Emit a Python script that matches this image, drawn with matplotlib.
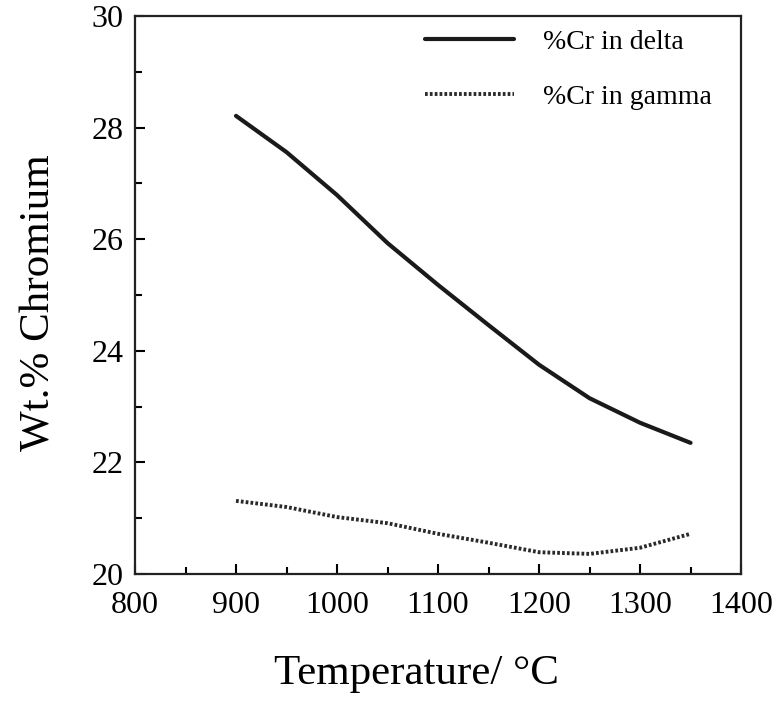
import matplotlib
matplotlib.use("Agg")
import matplotlib.pyplot as plt
from matplotlib.ticker import MultipleLocator

temps = [900, 950, 1000, 1050, 1100, 1150, 1200, 1250, 1300, 1350]
cr_delta = [28.21, 27.56, 26.79, 25.93, 25.18, 24.46, 23.75, 23.15, 22.71, 22.35]
cr_gamma = [21.31, 21.20, 21.02, 20.91, 20.72, 20.56, 20.39, 20.36, 20.47, 20.72]
labels = ["%Cr in delta", "%Cr in gamma"]

plt.rcParams['font.family'] = ['Liberation Serif', 'DejaVu Serif']

fig = plt.figure(figsize=(7.79, 7.01), dpi=100)
ax = fig.add_axes([0.1733, 0.1812, 0.778, 0.796])

ax.plot(temps, cr_delta, color='#1a1a1a', lw=3.0, solid_capstyle='round', label=labels[0])
ax.plot(temps, cr_gamma, color='#2a2a2a', lw=2.8, linestyle=(0, (0.7, 0.55)), label=labels[1])

ax.set_xlim(800, 1400)
ax.set_ylim(20, 30)
ax.xaxis.set_major_locator(MultipleLocator(100))
ax.xaxis.set_minor_locator(MultipleLocator(50))
ax.yaxis.set_major_locator(MultipleLocator(2))
ax.yaxis.set_minor_locator(MultipleLocator(1))
ax.tick_params(which='both', direction='in', top=False, right=False, width=1.5, labelsize=23)
ax.tick_params(axis='x', pad=12)
ax.tick_params(axis='y', pad=8)
ax.tick_params(which='major', length=7)
ax.tick_params(which='minor', length=5)
for s in ax.spines.values():
    s.set_linewidth(1.6)
    s.set_color('#222222')

ax.set_xlabel("Temperature/ °C", fontsize=31, labelpad=25)
ax.set_ylabel("Wt.% Chromium", fontsize=31, labelpad=24)
ax.xaxis.label.set_x(0.465)
ax.yaxis.label.set_y(0.486)

leg = ax.legend(loc='upper left', frameon=False, fontsize=20, handlelength=3.2,
                labelspacing=1.06, handletextpad=1.05, borderpad=0, borderaxespad=0,
                bbox_to_anchor=(0.4785, 0.976))

fig.savefig("out.png", dpi=100)
